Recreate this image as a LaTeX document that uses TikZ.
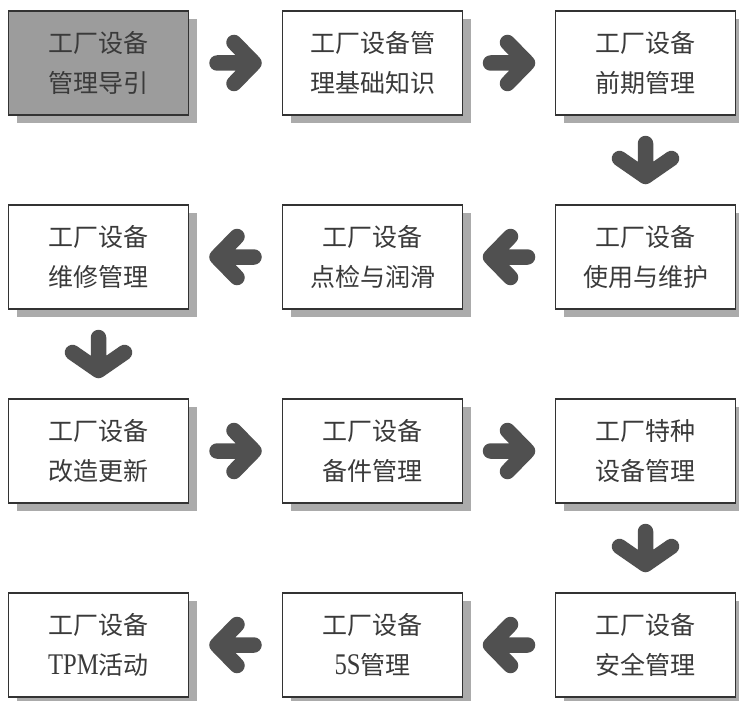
\documentclass[tikz,border=0pt]{standalone}
\usepackage{fontspec}
\newfontfamily\cjk{Noto Sans CJK SC}
\newfontfamily\latinserif[FakeStretch=0.82]{Liberation Serif}
\usetikzlibrary{calc,shadows}
\definecolor{boxline}{HTML}{333333}
\definecolor{boxtext}{HTML}{3A3A3A}
\definecolor{firstfill}{HTML}{9C9C9C}
\definecolor{shadowgray}{HTML}{ABABAB}
\definecolor{arrowgray}{HTML}{505050}
\newcommand{\lat}[1]{{\latinserif\fontsize{30}{40}\selectfont #1}}
\tikzset{
  box/.style={draw=boxline, line width=1.6pt, fill=white,
    minimum width=180pt, minimum height=104pt, inner sep=0pt,
    align=center, text=boxtext,
    font=\cjk\fontsize{25}{40}\selectfont,
    drop shadow={shadow xshift=8pt, shadow yshift=-8pt, fill=shadowgray, opacity=1}},
  firstbox/.style={box, fill=firstfill},
  chev/.style={draw=arrowgray, line width=15.5pt, line cap=round, line join=round},
  rarr/.pic={\draw[chev] (-18.5,0) -- (18.5,0) (-1.5,-20.5) -- (18.5,0) -- (-1.5,20.5);},
  larr/.pic={\draw[chev] (18.5,0) -- (-18.5,0) (1.5,-20.5) -- (-18.5,0) -- (1.5,20.5);},
  darr/.pic={\draw[chev] (0,-16.5) -- (0,16.5) (-26,-1.5) -- (0,16.5) -- (26,-1.5);}
}
\begin{document}
\begin{tikzpicture}[x=1pt,y=-1pt]
\useasboundingbox[fill=white] (0,0) rectangle (739,701);
% row 1
\node[firstbox] (a1) at (98.5,63) {工厂设备\\管理导引};
\node[box] (a2) at (372.5,63) {工厂设备管\\理基础知识};
\node[box] (a3) at (645.5,63) {工厂设备\\前期管理};
% row 2
\node[box] (b1) at (98.5,257) {工厂设备\\维修管理};
\node[box] (b2) at (372.5,257) {工厂设备\\点检与润滑};
\node[box] (b3) at (645.5,257) {工厂设备\\使用与维护};
% row 3
\node[box] (c1) at (98.5,451) {工厂设备\\改造更新};
\node[box] (c2) at (372.5,451) {工厂设备\\备件管理};
\node[box] (c3) at (645.5,451) {工厂特种\\设备管理};
% row 4
\node[box] (d1) at (98.5,645) {工厂设备\\\lat{TPM}活动};
\node[box] (d2) at (372.5,645) {工厂设备\\\lat{5S}管理};
\node[box] (d3) at (645.5,645) {工厂设备\\安全管理};
% arrows
\pic at ($(a1.east)!.5!(a2.west)$) {rarr};
\pic at ($(a2.east)!.5!(a3.west)$) {rarr};
\pic at ($(a3.south)!.5!(b3.north)$) {darr};
\pic at ($(b3.west)!.5!(b2.east)$) {larr};
\pic at ($(b2.west)!.5!(b1.east)$) {larr};
\pic at ($(b1.south)!.5!(c1.north)$) {darr};
\pic at ($(c1.east)!.5!(c2.west)$) {rarr};
\pic at ($(c2.east)!.5!(c3.west)$) {rarr};
\pic at ($(c3.south)!.5!(d3.north)$) {darr};
\pic at ($(d3.west)!.5!(d2.east)$) {larr};
\pic at ($(d2.west)!.5!(d1.east)$) {larr};
\end{tikzpicture}
\end{document}
